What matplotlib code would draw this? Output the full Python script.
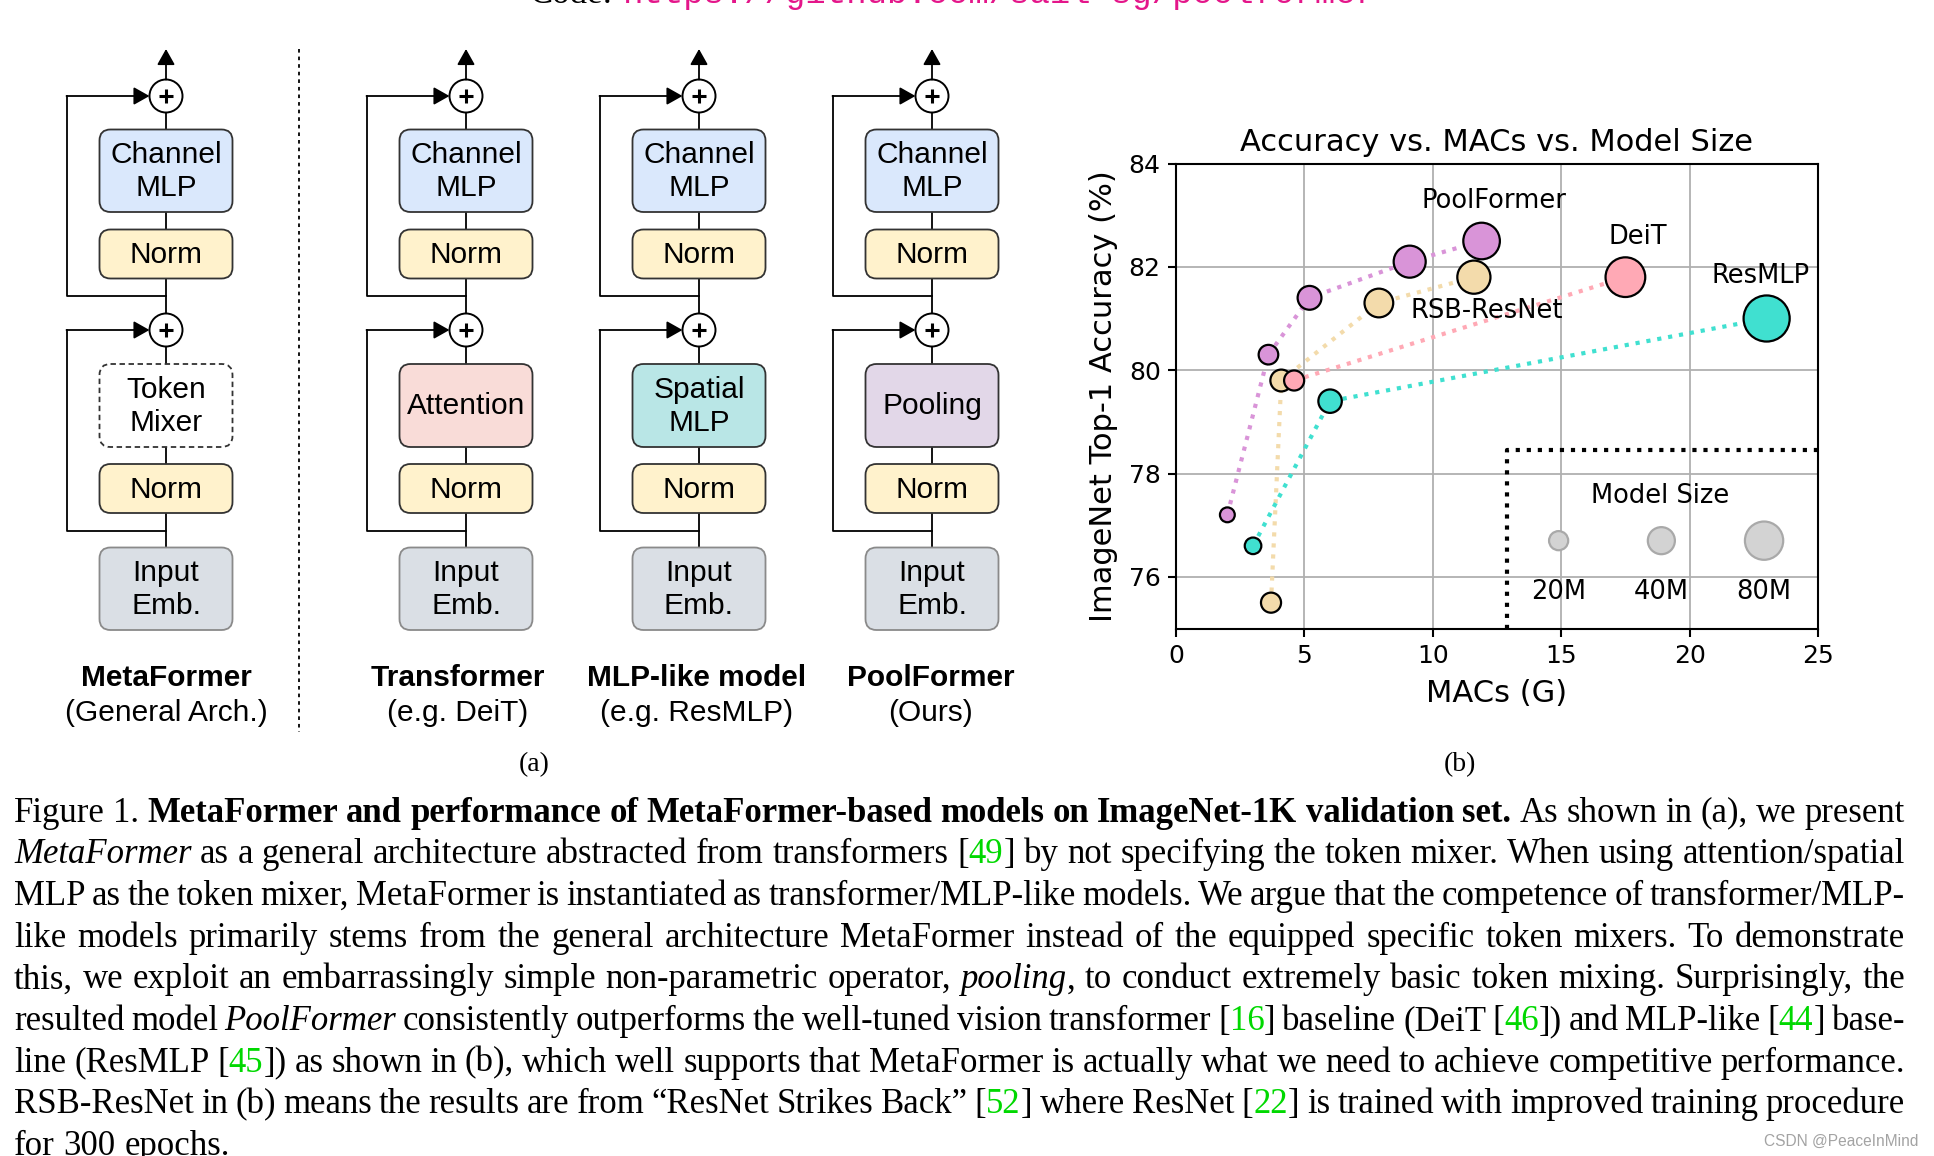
import matplotlib
matplotlib.use('Agg')
import matplotlib.pyplot as plt
from matplotlib.patches import FancyBboxPatch, Circle
import numpy as np

W, H = 1934, 1156

# ---------------- (b) accuracy vs MACs data ----------------
pool_macs = [2.0, 3.6, 5.2, 9.1, 11.9]
pool_acc = [77.2, 80.3, 81.4, 82.1, 82.5]
pool_params = [12, 21, 31, 56, 73]

rsb_macs = [3.7, 4.1, 7.9, 11.6]
rsb_acc = [75.5, 79.8, 81.3, 81.8]
rsb_params = [22, 26, 45, 60]

deit_macs = [4.6, 17.5]
deit_acc = [79.8, 81.8]
deit_params = [22, 86]

resmlp_macs = [3.0, 6.0, 23.0]
resmlp_acc = [76.6, 79.4, 81.0]
resmlp_params = [15, 30, 116]

model_names = ['PoolFormer', 'RSB-ResNet', 'DeiT', 'ResMLP']
name_x = [12.4, 12.1, 18.0, 22.75]
name_y = [83.27, 81.15, 82.58, 81.82]

size_legend = [20, 40, 80]
size_legend_x = [14.9, 18.9, 22.9]
size_labels = ['20M', '40M', '80M']

x_ticks = [0, 5, 10, 15, 20, 25]
y_ticks = [76, 78, 80, 82, 84]

# ---------------- (a) architecture diagrams ----------------
col_x = [166, 466, 699, 932]
title_x = [166, 458, 697, 931]
col_titles = ['MetaFormer', 'Transformer', 'MLP-like model', 'PoolFormer']
col_subtitles = ['(General Arch.)', '(e.g. DeiT)', '(e.g. ResMLP)', '(Ours)']
mixer_labels = [['Token', 'Mixer'], ['Attention'], ['Spatial', 'MLP'], ['Pooling']]
mixer_colors = ['white', '#f9dcd8', '#b9e6e6', '#e2d7e8']

# ---------------- caption ----------------
GREEN = '#00d800'
caption_runs = [
    [("Figure 1. ", 'n'),
     ("MetaFormer and performance of MetaFormer-based models on ImageNet-1K validation set.", 'b'),
     (" As shown in (a), we present", 'n')],
    [("MetaFormer", 'i'), (" as a general architecture abstracted from transformers [", 'n'), ("49", 'g'),
     ("] by not specifying the token mixer. When using attention/spatial", 'n')],
    [("MLP as the token mixer, MetaFormer is instantiated as transformer/MLP-like models. "
      "We argue that the competence of transformer/MLP-", 'n')],
    [("like models primarily stems from the general architecture MetaFormer instead of the "
      "equipped specific token mixers. To demonstrate", 'n')],
    [("this, we exploit an embarrassingly simple non-parametric operator, ", 'n'), ("pooling", 'i'),
     (", to conduct extremely basic token mixing. Surprisingly, the", 'n')],
    [("resulted model ", 'n'), ("PoolFormer", 'i'),
     (" consistently outperforms the well-tuned vision transformer [", 'n'), ("16", 'g'),
     ("] baseline (DeiT [", 'n'), ("46", 'g'), ("]) and MLP-like [", 'n'), ("44", 'g'), ("] base-", 'n')],
    [("line (ResMLP [", 'n'), ("45", 'g'),
     ("]) as shown in (b), which well supports that MetaFormer is actually what we need to achieve "
      "competitive performance.", 'n')],
    [("RSB-ResNet in (b) means the results are from \u201cResNet Strikes Back\u201d [", 'n'), ("52", 'g'),
     ("] where ResNet [", 'n'), ("22", 'g'), ("] is trained with improved training procedure", 'n')],
    [("for 300 epochs.", 'n')],
]

fig = plt.figure(figsize=(W / 100, H / 100), dpi=100)
bg = fig.add_axes([0, 0, 1, 1])
bg.set_xlim(0, W)
bg.set_ylim(H, 0)
bg.axis('off')

SANS = 'Liberation Sans'
SERIF = 'Liberation Serif'

# ---- diagram ----
BOX_W = 133
R = 16.5
SKIP_DX = 99
LW = 1.3
plus_y = [96, 330]
skip_bottom = [296, 531]
arrow_tip = 49


def box(cx, top, bottom, color, lines, dashed=False, edge='#333333'):
    p = FancyBboxPatch((cx - BOX_W / 2, top), BOX_W, bottom - top,
                       boxstyle='round,pad=0,rounding_size=11',
                       facecolor=color, edgecolor=edge, lw=1.3,
                       linestyle=(0, (3, 2)) if dashed else '-', zorder=3)
    bg.add_patch(p)
    mid = (top + bottom) / 2
    offs = [0] if len(lines) == 1 else [-16.75, 16.75]
    for t, o in zip(lines, offs):
        bg.text(cx, mid + o + 1, t, ha='center', va='center', fontsize=21.5,
                family=SANS, zorder=4)


def arrow(x0, y0, x1, y1):
    bg.annotate('', xy=(x1, y1), xytext=(x0, y0),
                arrowprops=dict(arrowstyle='-|>,head_length=0.8,head_width=0.45',
                                color='k', lw=LW, mutation_scale=12,
                                shrinkA=0, shrinkB=0), zorder=5)


for i, cx in enumerate(col_x):
    bg.plot([cx, cx], [547, plus_y[0]], color='k', lw=LW, zorder=1)
    for py, sb in zip(plus_y, skip_bottom):
        bg.plot([cx, cx - SKIP_DX, cx - SKIP_DX], [sb, sb, py], color='k', lw=LW, zorder=1)
        arrow(cx - SKIP_DX - 0.5, py, cx - R, py)
        bg.add_patch(Circle((cx, py), R, facecolor='white', edgecolor='k', lw=1.4, zorder=4))
        bg.plot([cx - 7, cx + 7], [py, py], color='k', lw=2.2, zorder=5, solid_capstyle='butt')
        bg.plot([cx, cx], [py - 7, py + 7], color='k', lw=2.2, zorder=5, solid_capstyle='butt')
    arrow(cx, plus_y[0] - R, cx, arrow_tip)

    box(cx, 129.5, 212, '#dae8fc', ['Channel', 'MLP'])
    box(cx, 229.5, 278.5, '#fff2cc', ['Norm'])
    box(cx, 364, 447, mixer_colors[i], mixer_labels[i], dashed=(i == 0))
    box(cx, 464, 513, '#fff2cc', ['Norm'])
    box(cx, 547.5, 630, '#dadfe5', ['Input', 'Emb.'], edge='#8a8a8a')

    bg.text(title_x[i], 678, col_titles[i], ha='center', va='center', fontsize=21.5,
            family=SANS, fontweight='bold')
    bg.text(title_x[i], 713, col_subtitles[i], ha='center', va='center', fontsize=21.5,
            family=SANS)

bg.plot([298.5, 298.5], [49, 732], color='k', lw=1.3, ls=(0, (2, 2.2)))
bg.text(534, 765, '(a)', ha='center', va='center', fontsize=20, family=SERIF)
bg.text(1460, 765, '(b)', ha='center', va='center', fontsize=20, family=SERIF)

# ---- top code line (cut by the page edge) ----
bg.text(530, 3, 'Code:', fontsize=25, family=SERIF, va='baseline', ha='left')
bg.text(623, 3, 'https://github.com/sail-sg/poolformer', fontsize=24.5,
        family='Liberation Mono', color='#e4168a', va='baseline', ha='left')

# ---- scatter plot ----
ax = fig.add_axes([1176 / W, 1 - 628.5 / H, 642 / W, 465 / H])
series = [
    (pool_macs, pool_acc, pool_params, '#d994d8'),
    (rsb_macs, rsb_acc, rsb_params, '#f3dbab'),
    (deit_macs, deit_acc, deit_params, '#ffa9b5'),
    (resmlp_macs, resmlp_acc, resmlp_params, '#40e0d0'),
]
for macs, acc, params, c in series:
    ax.plot(macs, acc, ls=':', lw=3, color=c, zorder=2)
for macs, acc, params, c in series:
    ax.scatter(macs, acc, s=np.array(params) * 9.5, color=c, edgecolors='k',
               linewidths=1.6, zorder=3)
for name, x, y in zip(model_names, name_x, name_y):
    ax.text(x, y, name, ha='center', va='center', fontsize=18.5, zorder=4)

ax.plot([12.9, 12.9, 25], [75, 78.45, 78.45], ls=':', color='k', lw=3, zorder=2, clip_on=False)
ax.text(18.85, 77.57, 'Model Size', ha='center', va='center', fontsize=18.5)
ax.scatter(size_legend_x, [76.7] * 3, s=np.array(size_legend) * 9.5, color='lightgray',
           edgecolors='darkgray', linewidths=1.6, zorder=3)
for x, lab in zip(size_legend_x, size_labels):
    ax.text(x, 75.71, lab, ha='center', va='center', fontsize=18.5)

ax.set_xlim(0, 25)
ax.set_ylim(75, 84)
ax.set_xticks(x_ticks)
ax.set_yticks(y_ticks)
ax.grid(True, color='#b0b0b0', lw=1.3)
ax.set_axisbelow(True)
ax.tick_params(labelsize=18, length=6, width=1.5, pad=5)
for sp in ax.spines.values():
    sp.set_linewidth(1.5)
ax.set_title('Accuracy vs. MACs vs. Model Size', fontsize=22, pad=9)
ax.set_xlabel('MACs (G)', fontsize=22, labelpad=8)
ax.set_ylabel('ImageNet Top-1 Accuracy (%)', fontsize=22, labelpad=8)

# ---- justified caption ----
styles = {'n': {}, 'b': {'fontweight': 'bold'}, 'i': {'fontstyle': 'italic'}, 'g': {'color': GREEN}}
renderer = fig.canvas.get_renderer()
CAP_L, CAP_R = 14, 1905
CAP_Y0, CAP_DY = 821.5, 41.7
CAP_FS = 25


def caption_line(runs, y, justify):
    words = [[]]
    for s, st in runs:
        for k, part in enumerate(s.split(' ')):
            if k > 0 and words[-1]:
                words.append([])
            if part:
                words[-1].append((part, st))
    if not words[-1]:
        words.pop()
    placed = []
    total = 0
    for w in words:
        segs = []
        for part, st in w:
            t = bg.text(0, y, part, fontsize=CAP_FS, family=SERIF, va='baseline', ha='left',
                        **styles[st])
            wd = t.get_window_extent(renderer=renderer).width
            segs.append((t, wd))
            total += wd
        placed.append(segs)
    if justify and len(placed) > 1:
        gap = (CAP_R - CAP_L - total) / (len(placed) - 1)
    else:
        gap = 0.25 * CAP_FS * 100 / 72
    x = CAP_L
    for segs in placed:
        for t, wd in segs:
            t.set_x(x)
            x += wd
        x += gap


for k, runs in enumerate(caption_runs):
    caption_line(runs, CAP_Y0 + k * CAP_DY, justify=(k < len(caption_runs) - 1))

bg.text(1918, 1141, 'CSDN @PeaceInMind', ha='right', va='center', fontsize=11.2,
        color='#a3a3a3', family=SANS)

fig.savefig('out.png', dpi=100)
